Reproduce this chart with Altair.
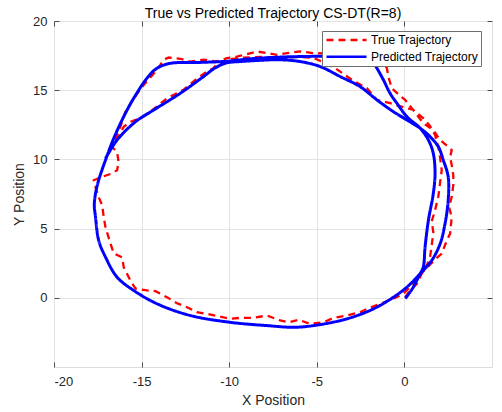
import altair as alt
import pandas as pd

# Ground-truth path: two noisy laps, starting near the origin
true_x = [0.04, 0.32, 0.71, 0.99, 1.28, 1.47, 1.56, 1.65, 1.56, 1.75, 1.94, 2.04, 2.13, 2.04, 1.94,
          1.75, 1.47, 1.07, 0.50, 0.04, -0.36, -0.72, -0.91, -1.00, -1.21, -1.67, -3.67, -5.20,
          -5.95, -6.70, -7.27, -7.85, -8.42, -8.99, -9.56, -10.13, -10.70, -11.46, -12.22, -12.79,
          -13.45, -13.74, -13.93, -14.21, -14.88, -15.30, -15.64, -15.93, -16.21, -16.49, -16.68,
          -16.40, -16.31, -16.40, -16.68, -17.25, -17.73, -17.63, -17.45, -17.25, -17.16, -17.06,
          -16.78, -16.59, -16.11, -16.02, -15.64, -15.35, -14.69, -14.21, -13.55, -12.98, -12.41,
          -11.84, -11.27, -9.94, -9.37, -8.61, -7.85, -7.09, -6.61, -6.04, -5.38, -4.62, -4.05,
          -3.28, -2.53, -2.14, -1.39, -0.63, -0.06, 0.32, 0.61, 1.01, 1.47, 1.81, 2.13, 2.42, 2.61,
          2.70, 2.55, 2.70, 2.79, 2.79, 2.70, 2.61, 2.70, 2.51, 2.04, 1.65, 1.08, 0.51, -0.82,
          -1.57, -2.14, -3.00, -3.95, -4.60, -5.20, -5.95, -7.09, -8.23, -9.37, -10.13, -10.70,
          -10.89, -11.27, -11.93, -12.60, -12.98, -13.55, -14.03, -14.50, -15.07, -15.64, -16.02,
          -16.31, -16.61]
true_y = [0.04, 0.53, 1.01, 1.74, 2.34, 2.99, 3.79, 4.73, 5.53, 6.33, 7.34, 8.36, 9.22, 10.09, 10.91,
          11.76, 12.41, 12.99, 13.57, 14.30, 14.73, 15.14, 15.96, 16.59, 17.05, 17.41, 17.63, 17.68,
          17.80, 17.68, 17.56, 17.68, 17.80, 17.61, 17.43, 17.32, 17.07, 17.20, 17.07, 17.27,
          17.36, 17.20, 16.83, 16.35, 15.38, 14.66, 14.01, 13.43, 12.36, 11.54, 10.89,
          10.53, 9.80, 9.22, 8.99, 8.74, 8.50, 7.99, 7.27, 6.69, 5.82, 5.09,
          3.93, 3.21, 2.92, 2.20, 1.25, 0.67, 0.53, 0.48, 0.04, -0.39, -0.68,
          -1.04, -1.16, -1.52, -1.45, -1.45, -1.28, -1.64, -1.77, -1.59, -1.88, -1.77, -1.45,
          -1.28, -1.04, -0.80, -0.43, -0.07, 0.29, 0.77, 1.25, 1.83, 2.41, 2.85, 3.19, 4.15, 4.64,
          5.84, 6.54, 7.29, 8.14, 8.86, 9.59, 10.17, 10.67, 10.91, 11.40, 12.12, 12.61, 13.57, 14.06,
          14.30, 15.14, 15.75, 16.59, 17.00, 17.34, 17.41, 17.34, 17.41, 17.34, 17.20, 16.91,
          16.59, 16.35, 15.75, 15.04, 14.78, 14.42, 13.93, 13.45, 12.97, 12.72, 12.36,
          11.64, 11.04]

# Model output: smooth path over the same two laps
pred_x = [0.05, 0.45, 0.90, 1.08, 1.18, 1.37, 1.65, 1.75, 1.65, 1.37, 0.90, 0.14, -0.43, -0.82,
          -1.20, -1.57, -1.96, -2.41, -3.67, -5.95, -7.09, -8.80, -10.13, -11.65, -13.36, -14.12,
          -14.69, -15.45, -16.02, -16.59, -17.06, -17.45, -17.63, -17.70, -17.63, -17.45, -17.06,
          -16.40, -15.45, -14.12, -12.22, -9.94, -7.84, -6.33, -5.19, -3.28, -1.77, -0.63, 0.14,
          0.90, 1.56, 2.04, 2.32, 2.50, 2.50, 2.22, 1.94, 1.47, 0.90, 0.14, -0.63, -1.57, -2.53,
          -3.67, -4.81, -5.95, -7.09, -8.23, -9.37, -10.13, -10.79, -11.46, -12.79, -14.31, -15.35,
          -16.40, -17.06]
pred_y = [-0.05, 0.65, 1.74, 2.22, 3.67, 5.60, 7.54, 8.99, 10.43, 11.40, 12.25, 13.09, 14.06, 14.78,
          15.75, 16.59, 17.32, 17.45, 17.47, 17.43, 17.39, 17.27, 17.09, 17.01, 16.94, 16.59,
          15.87, 14.42, 13.09, 11.52, 9.95, 8.50, 7.54, 6.69, 5.84, 4.15, 2.94,
          1.49, 0.53, -0.43, -1.28, -1.77, -2.01, -2.13, -2.01, -1.52, -0.80, 0.04, 0.77,
          1.74, 2.70, 3.91, 5.36, 7.05, 8.74, 9.95, 10.91, 11.64, 12.25, 12.85, 13.45, 14.30, 15.26,
          15.99, 16.71, 17.07, 17.20, 17.16, 17.07, 16.98, 16.62, 15.99, 14.78, 13.57, 12.72,
          11.40, 10.07]

x_ticks = [-20, -15, -10, -5, 0]
y_ticks = [0, 5, 10, 15, 20]
series_names = ["True Trajectory", "Predicted Trajectory"]

FONT = "Liberation Sans"
# plain hyphen-minus in tick labels
PLAIN_LABEL = "datum.value + ''"

true_df = pd.DataFrame({"x": true_x, "y": true_y, "step": list(range(len(true_x))),
                        "series": series_names[0]})
pred_df = pd.DataFrame({"x": pred_x, "y": pred_y, "step": list(range(len(pred_x))),
                        "series": series_names[1]})

xscale = alt.Scale(domain=[-20, 5], nice=False, zero=False)
yscale = alt.Scale(domain=[-5, 20], nice=False, zero=False)

legend = alt.Legend(
    title=None, orient="none", legendX=268, legendY=10, direction="vertical",
    fillColor="white", strokeColor="#6e6e6e", padding=3,
    symbolType="stroke", symbolSize=1600, symbolStrokeWidth=2.5,
    labelFont=FONT, labelFontSize=12, labelColor="#000000", labelOffset=3,
    clipHeight=12, rowPadding=4.7,
)
color = alt.Color("series:N", scale=alt.Scale(domain=series_names, range=["#ff0000", "#0000ff"]),
                  legend=legend)
dash = alt.StrokeDash("series:N", scale=alt.Scale(domain=series_names, range=[[7, 5], [1, 0]]),
                      legend=legend)

tick_style = dict(domain=False, offset=-5, tickSize=5, tickColor="#4d4d4d", tickWidth=1)

# bottom/left axes carry labels, titles and grid; ticks point inward
true_line = alt.Chart(true_df).mark_line(strokeWidth=2.3, strokeCap="butt").encode(
    x=alt.X("x:Q", scale=xscale, axis=alt.Axis(
        orient="bottom", values=x_ticks, title="X Position", grid=True, gridColor="#e3e3e3",
        labelFont=FONT, labelFontSize=13, labelColor="#262626", labelPadding=8,
        labelExpr=PLAIN_LABEL,
        titleFont=FONT, titleFontSize=14, titleFontWeight="normal", titleColor="#262626",
        titlePadding=5, **tick_style)),
    y=alt.Y("y:Q", scale=yscale, axis=alt.Axis(
        orient="left", values=y_ticks, title="Y Position", grid=True, gridColor="#e3e3e3",
        labelFont=FONT, labelFontSize=13, labelColor="#262626", labelPadding=7,
        labelExpr=PLAIN_LABEL,
        titleFont=FONT, titleFontSize=14, titleFontWeight="normal", titleColor="#262626",
        titlePadding=6, **tick_style)),
    color=color,
    strokeDash=dash,
    order=alt.Order("step:Q"),
)

# top/right axes: inward ticks only
pred_line = alt.Chart(pred_df).mark_line(strokeWidth=3, interpolate="catmull-rom",
                                         strokeJoin="round").encode(
    x=alt.X("x:Q", scale=xscale, axis=alt.Axis(
        orient="top", values=x_ticks, title=None, labels=False, grid=False, **tick_style)),
    y=alt.Y("y:Q", scale=yscale, axis=alt.Axis(
        orient="right", values=y_ticks, title=None, labels=False, grid=False, **tick_style)),
    color=color,
    strokeDash=dash,
    order=alt.Order("step:Q"),
)

chart = alt.layer(true_line, pred_line).resolve_axis(
    x="independent", y="independent"
).properties(
    width=438,
    height=346,
    autosize=alt.AutoSizeParams(type="none"),
    padding={"left": 54, "top": 21, "right": 10, "bottom": 45},
    title=alt.TitleParams(
        "True vs Predicted Trajectory CS-DT(R=8)", font=FONT, fontSize=14,
        fontWeight="normal", color="#000000", anchor="middle", frame="group",
        baseline="alphabetic", offset=6, dy=23,
    ),
).configure_view(stroke="#7a7a7a", strokeWidth=1).configure(background="white")

chart.save("out.html", embed_options={"renderer": "svg", "actions": False})
